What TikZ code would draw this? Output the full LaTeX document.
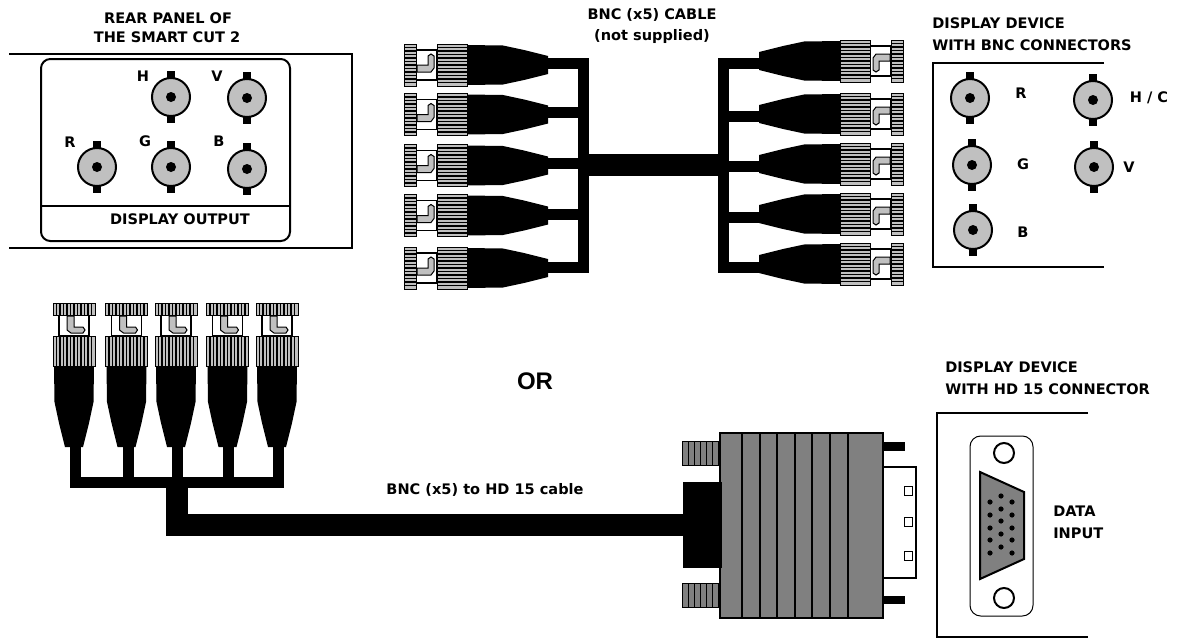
\documentclass[tikz,border=0pt]{standalone}
\usepackage{fontspec}
\setmainfont{Liberation Sans}
\newfontfamily\lblfont{DejaVu Sans}
\definecolor{jackgray}{RGB}{192, 192, 192}
\definecolor{hdgray}{RGB}{128, 128, 128}
\tikzset{
    lbl/.style={font=\lblfont\fontsize{10.9}{12}\selectfont\bfseries, inner sep=0pt},
    panel/.style={line width=1.5pt, black},
    wire/.style={line width=8.25pt, black},
    heavywire/.style={line width=16.5pt, black},
    bncjack/.pic={
        \fill[black] (-4,-26) rectangle (4,26);
        \draw[line width=1.5pt, fill=jackgray] (0,0) circle (19);
        \fill[black] (0,0) circle (5);
    },
    bncplug/.pic={
        % Collar and rear ring
        \draw[line width=1pt, fill=white] (12,-15) rectangle (33,15);
        \draw[line width=0.75pt, fill=jackgray] (0,-21) rectangle (12,21);
        \draw[line width=0.75pt, fill=jackgray] (33,-21) rectangle (63,21);
        \foreach \s in {-17.5,-14,...,17.5} {
            \draw[line width=0.9pt] (0,\s) -- (12,\s);
            \draw[line width=0.9pt] (33,\s) -- (63,\s);
        }
        % Centre pin
        \draw[line width=0.75pt, fill=jackgray] (13,0) -- (13,7) -- (27,7) -- (30,3) -- (30,-9)
            -- (27,-11) -- (24,-9) -- (24,0) -- cycle;
        % Black boot
        \fill[black] (63,-20) -- (99,-19.5) -- (120,-15) -- (144,-9) -- (144,9) -- (120,15)
            -- (99,19.5) -- (63,20) -- cycle;
    }
}
\begin{document}
\begin{tikzpicture}[x=0.75pt, y=-0.75pt]
    \useasboundingbox (0,0) rectangle (1177,639);

    % Rear panel
    \draw[panel] (9,54) -- (352,54) -- (352,248) -- (9,248);
    \draw[panel, rounded corners=7pt] (41,59) rectangle (290,241);
    \draw[panel] (41,206) -- (290,206);
    \foreach \px/\py in {171/97, 247/98, 97/167, 171/167, 247/169}
        \pic at (\px,\py) {bncjack};
    \node[lbl] (rearTitleA) at (168,18) {REAR PANEL OF};
    \node[lbl] (rearTitleB) at (167,37) {THE SMART CUT 2};
    \node[lbl] (rearH) at (143,76) {H};
    \node[lbl] (rearV) at (217,76) {V};
    \node[lbl] (rearR) at (70,142) {R};
    \node[lbl] (rearG) at (145,141) {G};
    \node[lbl] (rearB) at (219,141) {B};
    \node[lbl] (rearOut) at (180,219) {DISPLAY OUTPUT};

    % BNC cable, left fan
    \foreach \cy/\wy in {65/63.5, 114.5/112, 165.5/163, 215.5/214, 268/267} {
        \draw[wire] (548,\wy) -- (589,\wy);
        \pic at (404,\cy) {bncplug};
    }
    \draw[wire] (583.5,58) -- (583.5,272);

    % BNC cable, right fan
    \foreach \cy/\wy in {61/63.5, 114/116, 164/166, 214/217, 264/267} {
        \draw[wire] (718,\wy) -- (760,\wy);
        \pic[rotate=180] at (903,\cy) {bncplug};
    }
    \draw[wire] (723.5,58) -- (723.5,272);
    \draw[heavywire] (578,165) -- (729,165);
    \node[lbl] (cableTitleA) at (652,15) {BNC (x5) CABLE};
    \node[lbl] (cableTitleB) at (652,36) {(not supplied)};

    % Display device with BNC connectors
    \draw[panel] (1104,63) -- (933,63) -- (933,267) -- (1104,267);
    \foreach \px/\py in {970/98, 1093/100, 972/165, 1094/167, 973/230}
        \pic at (\px,\py) {bncjack};
    \node[lbl, anchor=west] (bncTitleA) at (932,23) {DISPLAY DEVICE};
    \node[lbl, anchor=west] (bncTitleB) at (932,45) {WITH BNC CONNECTORS};
    \node[lbl] (bncR) at (1021,93) {R};
    \node[lbl] (bncG) at (1023,164) {G};
    \node[lbl] (bncB) at (1023,232) {B};
    \node[lbl] (bncHC) at (1149,98) {H / C};
    \node[lbl] (bncV) at (1129,167) {V};

    \node[inner sep=0pt, font=\fontsize{18}{22}\selectfont\bfseries] (orText) at (535,381) {OR};

    % BNC ends of the HD 15 cable
    \draw[heavywire] (176.5,477) -- (176.5,525) -- (690,525);
    \draw[wire] (75.5,440) -- (75.5,482.5) -- (278,482.5) -- (278,440);
    \foreach \wx in {128, 177.5, 228.5}
        \draw[wire] (\wx,440) -- (\wx,482.5);
    \foreach \px in {74, 126.5, 176, 227.5, 277}
        \pic[rotate=-90] at (\px,303) {bncplug};
    \node[lbl] (hdCable) at (485,490) {BNC (x5) to HD 15 cable};

    % HD 15 plug
    \fill[black] (683,482) rectangle (722,568);
    \foreach \sy in {441, 583} {
        \draw[line width=0.75pt, fill=hdgray] (682,\sy) rectangle (719,\sy+24);
        \foreach \sx in {688,694,...,718}
            \draw[line width=0.75pt] (\sx,\sy) -- (\sx,\sy+24);
    }
    \fill[black] (883,442) rectangle (905,451);
    \fill[black] (883,596) rectangle (905,604);
    \draw[panel, fill=white] (883,467) -- (916,467) -- (916,578) -- (883,578);
    \foreach \sy in {486, 517, 551}
        \draw[line width=0.75pt, fill=white] (904,\sy) rectangle (912,\sy+9);
    \draw[panel, fill=hdgray] (720,433) rectangle (883,618);
    \fill[black] (719,482) rectangle (722,568);
    \foreach \bx in {742,760,777,795,812,830,848}
        \draw[panel] (\bx,433) -- (\bx,618);

    % Display device with HD 15 connector
    \draw[panel] (1088,413) -- (937,413) -- (937,637) -- (1088,637);
    \draw[line width=0.75pt, rounded corners=8pt] (970,436) rectangle (1033,616);
    \draw[panel] (1004,453) circle (10);
    \draw[panel] (1004,598) circle (10);
    \draw[panel, fill=hdgray] (980,472) -- (1024,492) -- (1024,559) -- (980,579) -- cycle;
    \foreach \py in {502,515,528,540,553} {
        \fill[black] (990,\py) circle (2.6);
        \fill[black] (1012,\py) circle (2.6);
    }
    \foreach \py in {496,509,521,534,547}
        \fill[black] (1001,\py) circle (2.6);
    \node[lbl, anchor=west] (hdTitleA) at (945,367) {DISPLAY DEVICE};
    \node[lbl, anchor=west] (hdTitleB) at (945,389) {WITH HD 15 CONNECTOR};
    \node[lbl, anchor=west] (hdDataA) at (1053,511) {DATA};
    \node[lbl, anchor=west] (hdDataB) at (1053,533) {INPUT};
\end{tikzpicture}
\end{document}
